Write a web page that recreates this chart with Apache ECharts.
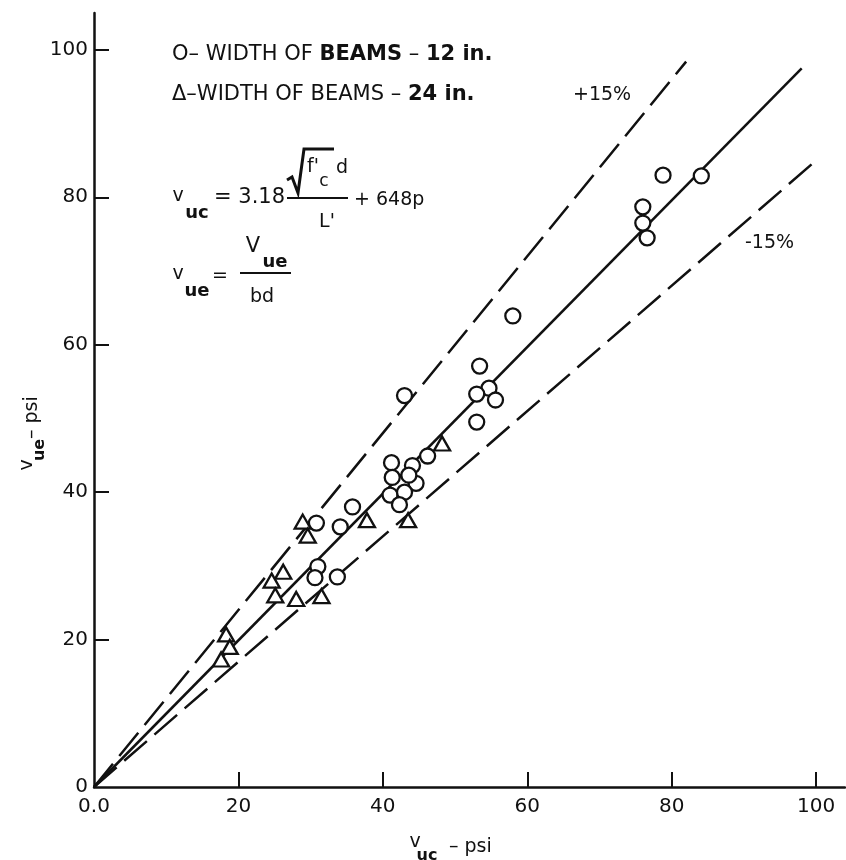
<!DOCTYPE html>
<html><head><meta charset="utf-8">
<script src="https://cdn.jsdelivr.net/npm/echarts@6/dist/echarts.min.js"></script>
<style>html,body{margin:0;padding:0;background:#fff}#c{width:846px;height:860px}</style>
</head><body><div id="c"></div>
<script>
// Data (psi)
var xTicks = [0, 20, 40, 60, 80, 100];
var yTicks = [0, 20, 40, 60, 80, 100];
var beams12 = [[78.8,83.0],[84.1,82.9],[76.0,78.7],[76.0,76.5],[76.6,74.5],[58.0,63.9],[53.4,57.1],[54.7,54.1],[53.0,53.3],[55.6,52.5],[53.0,49.5],[43.0,53.1],[46.2,44.9],[41.2,44.0],[41.3,42.0],[41.0,39.6],[44.1,43.6],[44.6,41.2],[43.0,40.0],[42.3,38.3],[43.6,42.3],[35.8,38.0],[34.1,35.3],[30.8,35.8],[31.0,29.9],[30.6,28.4],[33.7,28.5]];
var beams24 = [[48.2,46.6],[43.5,36.2],[37.8,36.2],[28.9,36.0],[29.6,34.1],[26.2,29.2],[24.6,28.0],[25.1,26.0],[28.0,25.5],[31.5,25.9],[18.3,20.7],[18.8,19.0],[17.6,17.3]];
var lineEqual = [[0,0],[98,97.5]];
var linePlus15 = [[0,0],[82,98.4]];
var lineMinus15 = [[0,0],[100,85]];

var F = '"DejaVu Sans", "Liberation Sans", sans-serif';
var K = '#111';
function txt(x, y, s, size, opt) {
  opt = opt || {};
  return { type: 'text', x: x, y: y, rotation: opt.rot || 0, z: 100,
    style: { text: s, fill: K, font: (opt.bold ? 'bold ' : '') + size + 'px ' + F,
      textAlign: opt.align || 'center', textVerticalAlign: 'middle' } };
}
function seg(pts, w) {
  return { type: 'polyline', z: 100, shape: { points: pts }, style: { stroke: K, lineWidth: w || 2, fill: null } };
}

var chart = echarts.init(document.getElementById('c'), null, { renderer: 'canvas' });
var scatterStyle = { color: '#fff', borderColor: K, borderWidth: 2.3, opacity: 1 };
chart.setOption({
  animation: false,
  backgroundColor: '#fff',
  grid: { left: 94, width: 751, top: 13, height: 774 },
  xAxis: {
    type: 'value', min: 0, max: 104, interval: 20,
    splitLine: { show: false },
    axisLine: { lineStyle: { color: K, width: 2.5 } },
    axisTick: { inside: true, length: 15, lineStyle: { color: K, width: 2 }, customValues: xTicks.slice(1) },
    axisLabel: { customValues: xTicks, color: K, fontSize: 20, fontFamily: F, margin: 10,
      formatter: function (v) { return v === 0 ? '0.0' : String(v); } }
  },
  yAxis: {
    type: 'value', min: 0, max: 105, interval: 20,
    splitLine: { show: false },
    axisLine: { lineStyle: { color: K, width: 2.5 } },
    axisTick: { inside: true, length: 15, lineStyle: { color: K, width: 2 }, customValues: yTicks.slice(1) },
    axisLabel: { customValues: yTicks, color: K, fontSize: 20, fontFamily: F, margin: 6 }
  },
  series: [
    { type: 'line', data: lineEqual, showSymbol: false, z: 2, lineStyle: { color: K, width: 2.5 } },
    { type: 'line', data: linePlus15, showSymbol: false, z: 2, lineStyle: { color: K, width: 2.5, type: [30, 10] } },
    { type: 'line', data: lineMinus15, showSymbol: false, z: 2, lineStyle: { color: K, width: 2.5, type: [30, 10] } },
    { type: 'scatter', data: beams12, symbol: 'circle', symbolSize: 15, z: 5, itemStyle: scatterStyle },
    { type: 'scatter', data: beams24, symbol: 'triangle', symbolSize: [16, 14], z: 6, itemStyle: scatterStyle }
  ],
  graphic: [
    { type: 'text', x: 172, y: 55, z: 100, style: { rich: {
        n: { font: '21px ' + F, fill: K }, b: { font: 'bold 21px ' + F, fill: K } },
      text: '{n|O– WIDTH OF }{b|BEAMS}{n| – }{b|12 in.}', textVerticalAlign: 'middle' } },
    { type: 'text', x: 172, y: 95, z: 100, style: { rich: {
        n: { font: '21px ' + F, fill: K }, b: { font: 'bold 21px ' + F, fill: K } },
      text: '{n|Δ–WIDTH OF BEAMS – }{b|24 in.}', textVerticalAlign: 'middle' } },
    txt(573, 95, '+15%', 19, { align: 'left' }),
    txt(745, 243, '-15%', 19, { align: 'left' }),
    // formula 1
    txt(178, 196, 'v', 19),
    txt(197, 213, 'uc', 18, { bold: true }),
    txt(214, 198, '= 3.18', 21, { align: 'left' }),
    seg([[287, 180], [292, 177], [298, 193], [304, 149], [334, 149]], 3),
    txt(313, 167, "f'", 19),
    txt(324, 182, 'c', 17),
    txt(342, 168, 'd', 19),
    seg([[287, 198], [348, 198]], 2),
    txt(327, 222, "L'", 19),
    txt(354, 200, '+ 648p', 19, { align: 'left' }),
    // formula 2
    txt(178, 274, 'v', 19),
    txt(197, 291, 'ue', 18, { bold: true }),
    txt(220, 276, '=', 19),
    txt(253, 247, 'V', 21),
    txt(275, 262, 'ue', 18, { bold: true }),
    seg([[240, 273], [291, 273]], 2),
    txt(262, 297, 'bd', 19),
    // x axis name
    txt(415, 842, 'v', 19),
    txt(427, 856, 'uc', 16, { bold: true }),
    txt(449, 847, '– psi', 19, { align: 'left' }),
    // y axis name
    txt(27, 465, 'v', 19, { rot: Math.PI / 2 }),
    txt(40, 450, 'ue', 16, { rot: Math.PI / 2, bold: true }),
    txt(32, 439, '– psi', 19, { rot: Math.PI / 2, align: 'left' })
  ]
});
</script></body></html>
